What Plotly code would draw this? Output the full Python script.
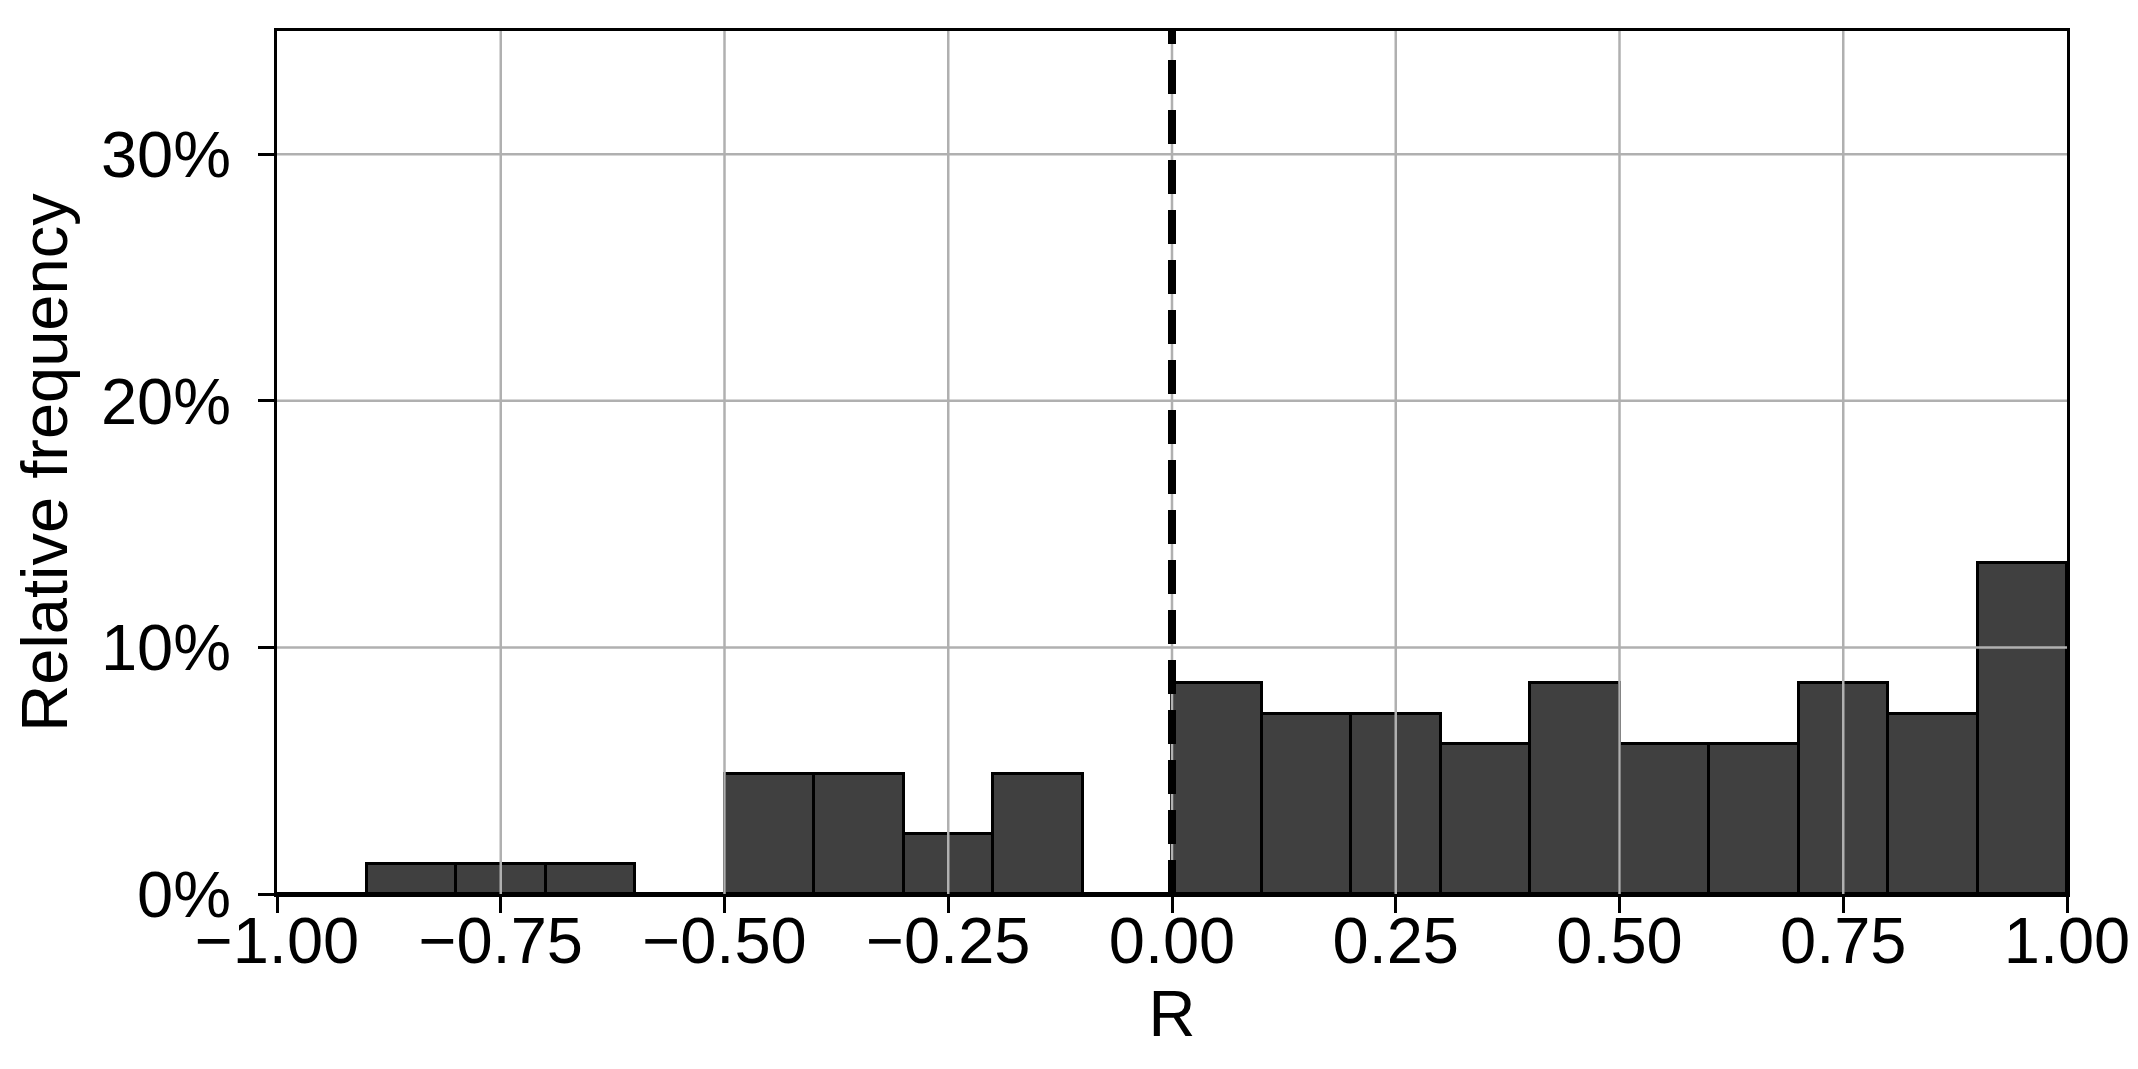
import plotly.graph_objects as go

# histogram of R, bins of width 0.1 from -1 to 1 (relative frequency in %)
bin_left = [-1.0, -0.9, -0.8, -0.7, -0.6, -0.5, -0.4, -0.3, -0.2, -0.1,
            0.0, 0.1, 0.2, 0.3, 0.4, 0.5, 0.6, 0.7, 0.8, 0.9]
rel_freq = [0.0, 1.22, 1.22, 1.22, 0.0, 4.88, 4.88, 2.44, 4.88, 0.0,
            8.54, 7.32, 7.32, 6.10, 8.54, 6.10, 6.10, 8.54, 7.32, 13.41]
bin_width = 0.1

x_ticks = [-1.0, -0.75, -0.5, -0.25, 0.0, 0.25, 0.5, 0.75, 1.0]
x_ticktext = ["\u22121.00", "\u22120.75", "\u22120.50", "\u22120.25",
              "0.00", "0.25", "0.50", "0.75", "1.00"]
y_ticks = [0, 10, 20, 30]
y_ticktext = ["0%", "10%", "20%", "30%"]
x_range = [-1.0, 1.0]
y_range = [0, 35]

FONT = "Liberation Sans, Arial, sans-serif"
GRID = "#b0b0b0"

centers = [b + bin_width / 2 for b in bin_left]

fig = go.Figure(go.Bar(
    x=centers, y=rel_freq, width=bin_width,
    marker=dict(color="#404040", line=dict(color="black", width=3)),
    showlegend=False, hoverinfo="skip",
))

# matplotlib-style grid drawn over the bars
shapes = []
for xv in x_ticks:
    if x_range[0] < xv < x_range[1]:
        shapes.append(dict(type="line", xref="x", yref="paper", x0=xv, x1=xv,
                           y0=0, y1=1, layer="above",
                           line=dict(color=GRID, width=2.5)))
for yv in y_ticks:
    if y_range[0] < yv < y_range[1]:
        shapes.append(dict(type="line", xref="paper", yref="y", x0=0, x1=1,
                           y0=yv, y1=yv, layer="above",
                           line=dict(color=GRID, width=2.5)))
# zero reference line
shapes.append(dict(type="line", xref="x", yref="paper", x0=0, x1=0,
                   y0=0, y1=1, layer="above",
                   line=dict(color="black", width=8, dash="34px,16px")))

fig.update_layout(
    width=2138, height=1069,
    paper_bgcolor="white", plot_bgcolor="white",
    margin=dict(l=269, r=79, t=23, b=183),
    font=dict(family=FONT, size=65, color="black"),
    bargap=0,
    shapes=shapes,
    xaxis=dict(
        range=x_range, tickvals=x_ticks, ticktext=x_ticktext,
        showgrid=False, zeroline=False,
        showline=True, mirror=True, linecolor="black", linewidth=3,
        ticks="outside", ticklen=16, tickwidth=3, tickcolor="black",
        tickfont=dict(size=65), ticklabelstandoff=-28,
        title=dict(text="R", font=dict(size=65), standoff=6),
        automargin=False,
    ),
    yaxis=dict(
        range=y_range, tickvals=y_ticks, ticktext=y_ticktext,
        showgrid=False, zeroline=False,
        showline=True, mirror=True, linecolor="black", linewidth=3,
        ticks="outside", ticklen=16, tickwidth=3, tickcolor="black",
        tickfont=dict(size=65), ticklabelstandoff=14,
        title=dict(text="Relative frequency", font=dict(size=65), standoff=24),
        automargin=False,
    ),
)

fig.write_html("out.html")
